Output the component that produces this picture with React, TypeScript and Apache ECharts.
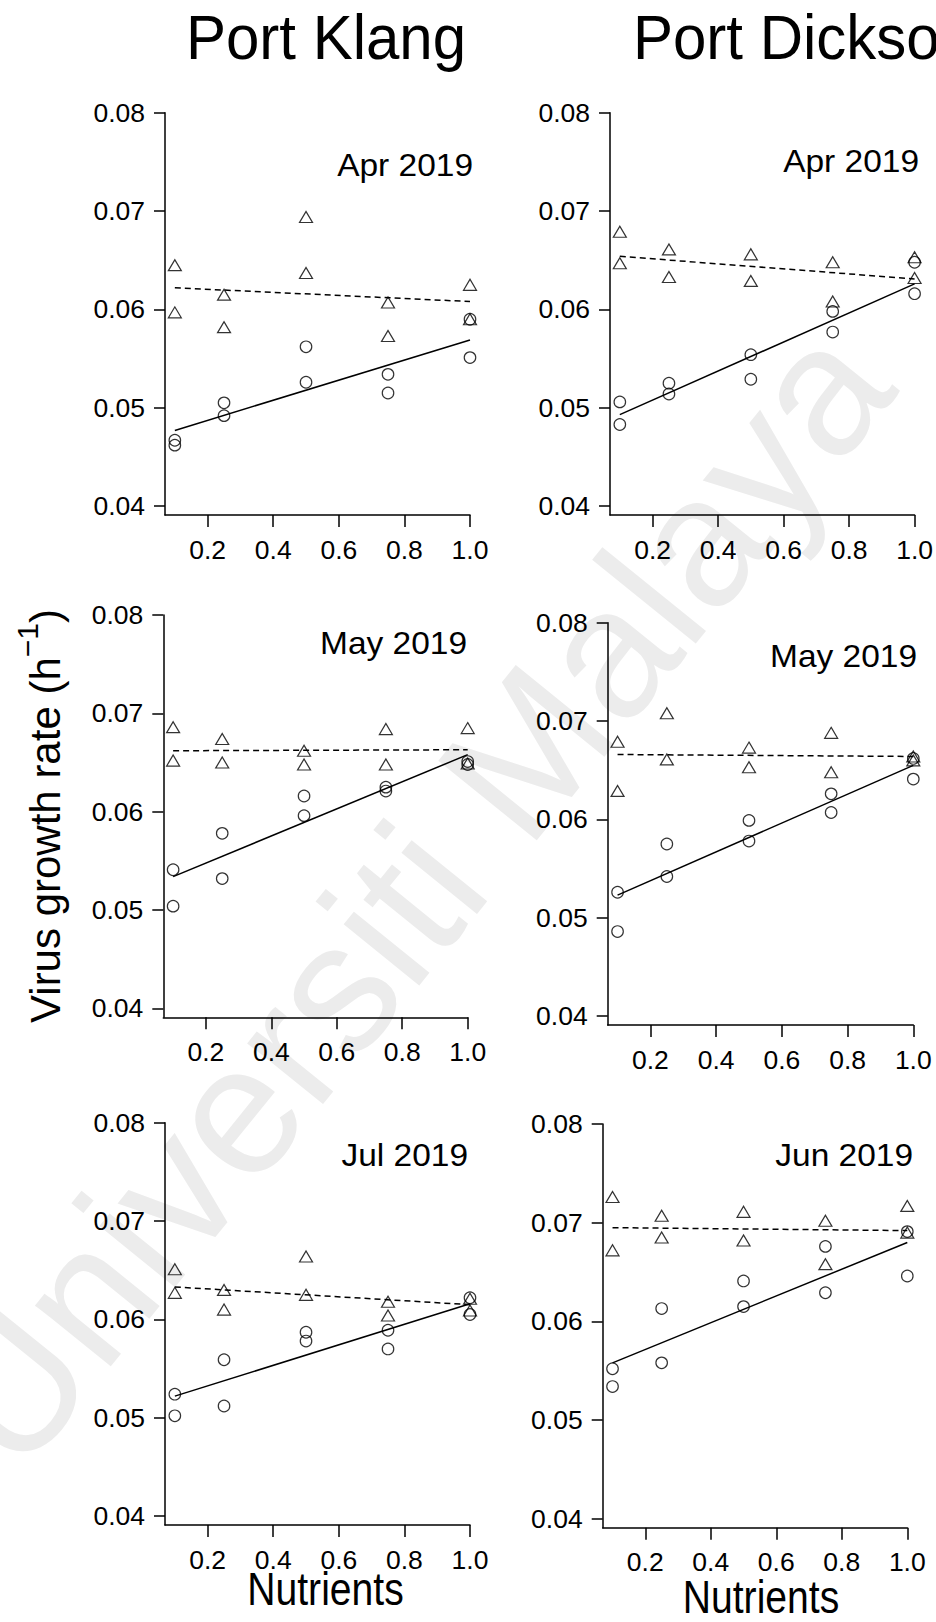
import React, { useEffect, useRef } from "react";
import * as echarts from "echarts";

// ---------- data ----------
const nutrients = [0.1, 0.25, 0.5, 0.75, 1.0];
const fitX = [0.1, 1.0];
const xTicks = [0.2, 0.4, 0.6, 0.8, 1.0];
const yTicks = [0.04, 0.05, 0.06, 0.07, 0.08];
const siteNames = ["Port Klang", "Port Dickson"];
const panelMonths = ["Apr 2019", "Apr 2019", "May 2019", "May 2019", "Jul 2019", "Jun 2019"];
const yTitle = "Virus growth rate (h";
const ySup = "\u22121";
const xTitle = "Nutrients";
const watermark = "Universiti Malaya";

// Port Klang, Apr 2019
const pkAprTri = [[0.0645, 0.0597], [0.0615, 0.0582], [0.0694, 0.0637], [0.0607, 0.0573], [0.0625, 0.059]];
const pkAprCirc = [[0.0467, 0.0462], [0.0505, 0.0492], [0.0562, 0.0526], [0.0534, 0.0515], [0.059, 0.0551]];
const pkAprTriFit = [0.0622, 0.0608];
const pkAprCircFit = [0.0477, 0.0569];

// Port Dickson, Apr 2019
const pdAprTri = [[0.0679, 0.0647], [0.0661, 0.0633], [0.0656, 0.0629], [0.0648, 0.0608], [0.0653, 0.0632]];
const pdAprCirc = [[0.0506, 0.0483], [0.0525, 0.0514], [0.0554, 0.0529], [0.0598, 0.0577], [0.0648, 0.0616]];
const pdAprTriFit = [0.0654, 0.0631];
const pdAprCircFit = [0.0493, 0.0626];

// Port Klang, May 2019
const pkMayTri = [[0.0686, 0.0652], [0.0674, 0.065], [0.0662, 0.0648], [0.0684, 0.0648], [0.0685, 0.0649]];
const pkMayCirc = [[0.0541, 0.0504], [0.0578, 0.0532], [0.0616, 0.0596], [0.0625, 0.0621], [0.0651, 0.0648]];
const pkMayTriFit = [0.0662, 0.0663];
const pkMayCircFit = [0.0534, 0.0658];

// Port Dickson, May 2019
const pdMayTri = [[0.0679, 0.0629], [0.0708, 0.0661], [0.0673, 0.0653], [0.0688, 0.0648], [0.0664, 0.066]];
const pdMayCirc = [[0.0526, 0.0486], [0.0575, 0.0542], [0.0599, 0.0578], [0.0626, 0.0607], [0.0662, 0.0641]];
const pdMayTriFit = [0.0666, 0.0664];
const pdMayCircFit = [0.0523, 0.0655];

// Port Klang, Jul 2019
const pkJulTri = [[0.0651, 0.0627], [0.063, 0.061], [0.0664, 0.0625], [0.0618, 0.0604], [0.0621, 0.0609]];
const pkJulCirc = [[0.0524, 0.0502], [0.0559, 0.0512], [0.0587, 0.0578], [0.0589, 0.057], [0.0622, 0.0605]];
const pkJulTriFit = [0.0633, 0.0615];
const pkJulCircFit = [0.0522, 0.0616];

// Port Dickson, Jun 2019
const pdJunTri = [[0.0726, 0.0672], [0.0707, 0.0685], [0.0711, 0.0682], [0.0702, 0.0658], [0.0717, 0.069]];
const pdJunCirc = [[0.0552, 0.0534], [0.0613, 0.0558], [0.0641, 0.0615], [0.0676, 0.0629], [0.0691, 0.0646]];
const pdJunTriFit = [0.0695, 0.0692];
const pdJunCircFit = [0.0558, 0.068];

const panelData = [
  { tri: pkAprTri, circ: pkAprCirc, triFit: pkAprTriFit, circFit: pkAprCircFit },
  { tri: pdAprTri, circ: pdAprCirc, triFit: pdAprTriFit, circFit: pdAprCircFit },
  { tri: pkMayTri, circ: pkMayCirc, triFit: pkMayTriFit, circFit: pkMayCircFit },
  { tri: pdMayTri, circ: pdMayCirc, triFit: pdMayTriFit, circFit: pdMayCircFit },
  { tri: pkJulTri, circ: pkJulCirc, triFit: pkJulTriFit, circFit: pkJulCircFit },
  { tri: pdJunTri, circ: pdJunCirc, triFit: pdJunTriFit, circFit: pdJunCircFit },
];

// ---------- layout ----------
const layout = [
  { left: 165, top: 112.7, width: 305, height: 402.3, labelX: 473, labelY: 165.5 },
  { left: 610, top: 112.7, width: 305, height: 402.3, labelX: 919, labelY: 161.5 },
  { left: 163.3, top: 615, width: 304.4, height: 402.3, labelX: 467, labelY: 643.5 },
  { left: 607.7, top: 622.7, width: 305.6, height: 402.3, labelX: 917, labelY: 656.5 },
  { left: 165, top: 1122.7, width: 305, height: 402.3, labelX: 468, labelY: 1155.5 },
  { left: 602.7, top: 1124, width: 304.6, height: 403.7, labelX: 913, labelY: 1155.5 },
];

const FONT = "'Liberation Sans', Arial, Helvetica, sans-serif";
const X_MIN = 0.07;
const X_MAX = 1.0;
const Y_MIN = 0.0391;
const Y_MAX = 0.08;

function buildOption() {
  const grid: any[] = [];
  const xAxis: any[] = [];
  const yAxis: any[] = [];
  const series: any[] = [];
  const graphic: any[] = [];

  graphic.push({
    type: "text",
    z: -10,
    x: 410,
    y: 895,
    rotation: (51 * Math.PI) / 180,
    style: {
      text: watermark,
      fontSize: 184,
      fontFamily: FONT,
      fill: "#ececec",
      textAlign: "center",
      textVerticalAlign: "middle",
    },
  });

  layout.forEach((L, i) => {
    grid.push({ left: L.left, top: L.top, width: L.width, height: L.height, containLabel: false });
    xAxis.push({
      type: "value",
      gridIndex: i,
      min: X_MIN,
      max: X_MAX,
      splitLine: { show: false },
      axisLine: { show: true, onZero: false, lineStyle: { color: "#000", width: 1.5 } },
      axisTick: { show: true, inside: false, length: 12, customValues: xTicks, lineStyle: { color: "#000", width: 1.5 } },
      axisLabel: {
        customValues: xTicks,
        formatter: (v: number) => v.toFixed(1),
        fontSize: 26.5,
        fontFamily: FONT,
        color: "#000",
        margin: 21,
      },
    });
    yAxis.push({
      type: "value",
      gridIndex: i,
      min: Y_MIN,
      max: Y_MAX,
      splitLine: { show: false },
      axisLine: { show: true, onZero: false, lineStyle: { color: "#000", width: 1.5 } },
      axisTick: { show: true, inside: false, length: 11, customValues: yTicks, lineStyle: { color: "#000", width: 1.5 } },
      axisLabel: {
        customValues: yTicks,
        formatter: (v: number) => v.toFixed(2),
        fontSize: 26.5,
        fontFamily: FONT,
        color: "#000",
        margin: 20,
      },
    });

    const d = panelData[i];
    const triPts: number[][] = [];
    const circPts: number[][] = [];
    nutrients.forEach((x, k) => {
      d.tri[k].forEach((v) => triPts.push([x, v]));
      d.circ[k].forEach((v) => circPts.push([x, v]));
    });

    series.push({
      type: "line",
      xAxisIndex: i,
      yAxisIndex: i,
      data: fitX.map((x, k) => [x, d.triFit[k]]),
      showSymbol: false,
      silent: true,
      lineStyle: { color: "#000", width: 1.5, type: [6, 4] },
      z: 3,
    });
    series.push({
      type: "line",
      xAxisIndex: i,
      yAxisIndex: i,
      data: fitX.map((x, k) => [x, d.circFit[k]]),
      showSymbol: false,
      silent: true,
      lineStyle: { color: "#000", width: 1.5, type: "solid" },
      z: 3,
    });
    series.push({
      type: "scatter",
      xAxisIndex: i,
      yAxisIndex: i,
      data: triPts,
      symbol: "triangle",
      symbolSize: [13, 11],
      silent: true,
      itemStyle: { color: "rgba(255,255,255,0)", borderColor: "#000", borderWidth: 1.2 },
      z: 4,
    });
    series.push({
      type: "scatter",
      xAxisIndex: i,
      yAxisIndex: i,
      data: circPts,
      symbol: "circle",
      symbolSize: 11.5,
      silent: true,
      itemStyle: { color: "rgba(255,255,255,0)", borderColor: "#000", borderWidth: 1.2 },
      z: 4,
    });

    graphic.push({
      type: "text",
      x: L.labelX,
      y: L.labelY,
      scaleX: 1.08,
      style: {
        text: panelMonths[i],
        fontSize: 31,
        fontFamily: FONT,
        fill: "#000",
        textAlign: "right",
        textVerticalAlign: "middle",
      },
    });
  });

  // column titles
  graphic.push({
    type: "text",
    x: 326,
    y: 37,
    scaleY: 1.05,
    style: { text: siteNames[0], fontSize: 60, fontFamily: FONT, fill: "#000", textAlign: "center", textVerticalAlign: "middle" },
  });
  graphic.push({
    type: "text",
    x: 633,
    y: 37,
    scaleY: 1.05,
    style: { text: siteNames[1], fontSize: 60, fontFamily: FONT, fill: "#000", textAlign: "left", textVerticalAlign: "middle" },
  });

  // y-axis title
  graphic.push({
    type: "text",
    x: 45,
    y: 816,
    rotation: Math.PI / 2,
    style: {
      text: "{n|" + yTitle + "}{s|" + ySup + "}{n|)}",
      fontFamily: FONT,
      fill: "#000",
      textAlign: "center",
      textVerticalAlign: "middle",
      rich: {
        n: { fontSize: 42, lineHeight: 66, fontFamily: FONT, fill: "#000" },
        s: { fontSize: 30, lineHeight: 10, verticalAlign: "top", fontFamily: FONT, fill: "#000" },
      },
    },
  });

  // x-axis titles
  [
    { x: 325.5, y: 1588.5 },
    { x: 761, y: 1597 },
  ].forEach((p) => {
    graphic.push({
      type: "text",
      x: p.x,
      y: p.y,
      scaleX: 0.85,
      style: { text: xTitle, fontSize: 46, fontFamily: FONT, fill: "#000", textAlign: "center", textVerticalAlign: "middle" },
    });
  });

  return {
    animation: false,
    backgroundColor: "#ffffff",
    grid,
    xAxis,
    yAxis,
    series,
    graphic: { elements: graphic },
  };
}

export default function App() {
  const ref = useRef<HTMLDivElement | null>(null);
  useEffect(() => {
    document.body.style.margin = "0";
    if (!ref.current) return;
    const chart = echarts.init(ref.current, undefined, { renderer: "svg" });
    chart.setOption(buildOption() as any);
    return () => {
      chart.dispose();
    };
  }, []);
  return <div ref={ref} style={{ width: 936, height: 1622 }} />;
}
